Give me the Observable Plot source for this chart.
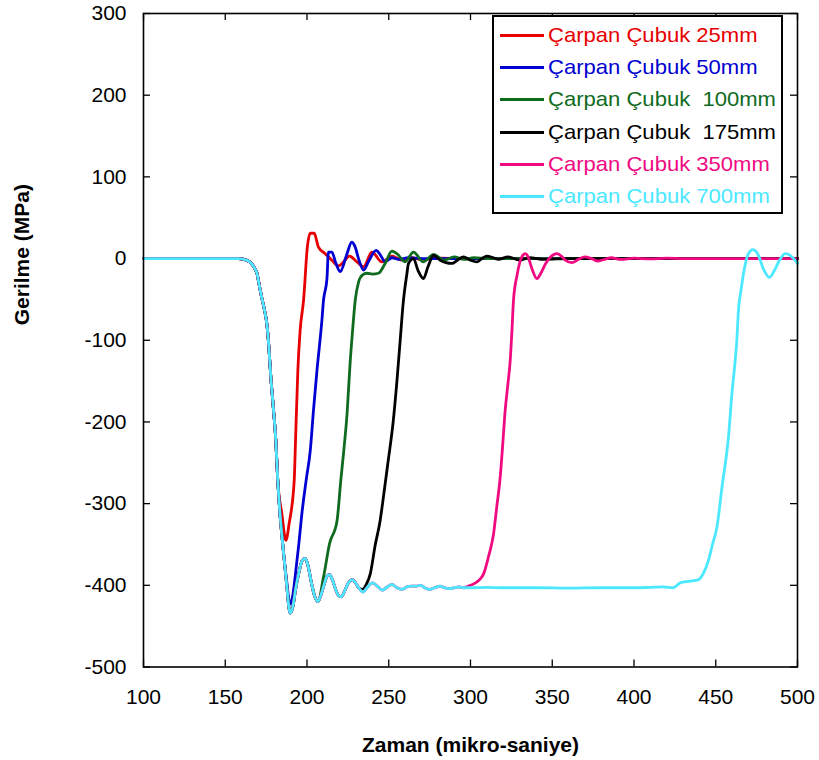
<!DOCTYPE html>
<html><head><meta charset="utf-8">
<script src="https://cdn.jsdelivr.net/npm/d3@7"></script>
<script src="https://cdn.jsdelivr.net/npm/@observablehq/plot@0.6"></script>
<style>
body{margin:0;background:#fff}
#wrap{position:relative;width:819px;height:760px;font-family:"Liberation Sans",Arial,sans-serif}
#legend{position:absolute;left:492px;top:15px;width:291px;height:199px;border:2.5px solid #000;background:#fff;box-sizing:border-box}
.item{position:absolute;left:0;height:30px;width:285px}
.item .ln{position:absolute;left:6px;width:44px;height:3px;top:13px}
.item .tx{position:absolute;left:54px;top:1px;font-size:21px;line-height:26px;white-space:pre;transform:scaleX(1.05);transform-origin:0 50%}
</style>
</head><body>
<div id="wrap"></div>
<script>
// ---- data ----
const xTicks = [100,150,200,250,300,350,400,450,500];
const yTicks = [300,200,100,0,-100,-200,-300,-400,-500];
const seriesNames = ["Çarpan Çubuk 25mm","Çarpan Çubuk 50mm","Çarpan Çubuk  100mm","Çarpan Çubuk  175mm","Çarpan Çubuk 350mm","Çarpan Çubuk 700mm"];
const seriesColors = ["#e60000","#0000d2","#0f6b1e","#000000","#f00a82","#4ce8ff"];

// shared incident/transmitted wave (all bars identical until the reflection arrives) [time, stress]
const shared = [[100,0],[130,0],[150,0],[158,0],[160,-0.5],[162,-1.5],[164,-3],[166,-6],[168,-12],[169.4,-18],[170.3,-27],[172,-45],[174,-63],[175.5,-81],[176.6,-106],[177.8,-143],[179.3,-180],[180.9,-222],[182.1,-271],[183.3,-308],[185.3,-353],[187.3,-394],[189.7,-434],[191.5,-425],[193,-405],[195,-385],[197,-370],[198.9,-367],[200.5,-375],[202.5,-395],[204.5,-412],[206.7,-420],[208.5,-412],[210.5,-399],[212.2,-389],[213.8,-387],[215.5,-393],[217.5,-405],[219.5,-413],[221,-414],[223,-407],[225,-398],[227.8,-393],[230,-398],[232,-404],[234.2,-408],[237,-402],[240,-397],[243,-401],[246,-406],[249,-402],[252,-399],[255,-403],[258,-405],[261,-402],[264,-401],[267,-401],[269.5,-400],[272,-403],[275,-405],[278,-403],[281.5,-401],[284,-403],[287,-404],[290,-403],[293,-402],[296,-403]];
const plateau700 = [[300,-403],[310,-402.5],[320,-403],[340,-403],[360,-403.5],[380,-403],[400,-403],[410,-402.5],[418,-402],[424,-403]];

const tail25 = [[184.6,-312],[187.1,-345],[189.1,-324],[192.2,-271],[192.8,-235],[194.4,-137],[195.8,-88],[197.9,-51],[200.3,16],[202,31],[204.4,31],[207,14],[211.1,6],[215.2,-2],[219,-9],[222,-5],[226,3],[230,-3],[234.6,-10],[239.7,8],[245.8,-4],[252,3],[258,-2],[264,1],[270,-1],[280,0.5],[300,0],[500,0]];
const tail50 = [[187.3,-390],[189.7,-423],[191.5,-410],[193,-385],[194.8,-353],[197,-310],[199.5,-271],[202,-235],[204,-185],[206.1,-137],[209.1,-76],[210.1,-51],[212.2,-25],[213.1,8],[215.2,8],[217.5,-5],[220.3,-16],[224,3],[227.4,20],[229.5,14],[231.5,0],[234.6,-14],[238,-2],[242.3,10],[245,4],[247.8,-4],[252,1],[256,-1],[262,1],[270,0],[300,0],[500,0]];
const tail100 = [[210.1,-390],[213.8,-349],[218.3,-322],[220.7,-271],[222.5,-235],[224.5,-190],[226.3,-130],[228,-85],[229.5,-51],[231.5,-29],[234,-20],[236.6,-18],[240,-19],[243.7,-18],[247.8,-6],[251.9,9],[255,6],[260,-4],[265.1,8],[271.2,-4],[277.4,5],[284,-2],[290,2],[296,-1],[302,1],[310,0],[500,0]];
const tail175 = [[234.2,-405],[236,-400],[238.7,-386],[241.7,-351],[244.8,-320],[246.2,-300],[249.5,-250],[252.7,-200],[255,-150],[257,-100],[259,-51],[261,-20],[262.1,-6],[265.1,0],[268,-15],[271.2,-24.5],[274,-10],[277.4,4],[281.5,-2],[285,-5],[288.6,-6],[292,-2],[295.7,2],[300,-2],[303.9,-4],[307,0],[310,3],[314,1],[317,-1],[323,2],[330,-2],[336,1],[345,-1],[360,0],[500,0]];
const tail350 = [[300,-400],[303,-397],[306,-392],[308,-386],[311,-365],[314.1,-337],[316,-305],[318.2,-267],[319.8,-225],[321.2,-186],[322.8,-155],[324.3,-124.5],[325.3,-90],[326.3,-51],[328.5,-20],[331.4,2],[333.5,6],[335,3],[337.5,-12],[340.6,-24.5],[343,-18],[346,-6],[349,2],[352.8,6],[355,4],[358,-2],[362,-5],[366,-1],[370,2],[374,0],[378,-3],[382,-1],[386,1],[392,-1],[400,0.5],[410,-0.5],[420,0.5],[430,0],[500,0]];
const tail700 = [[428.2,-397],[434,-395],[439.4,-393],[442.5,-385],[445.6,-369],[448,-350],[450.7,-329],[453.8,-280],[457.8,-218],[459.9,-165],[461.9,-124.5],[462.9,-100],[463.9,-63],[465.5,-38],[467,-18],[470,6],[472.7,11],[474.5,9],[476.1,4],[479,-12],[482.9,-23],[486,-14],[489,-2],[492.5,6],[495.5,4],[498,-1],[500,-6]];

// ---- assemble ----
const upTo = (arr, t) => arr.filter(d => d[0] <= t);
const curves = [
  upTo(shared,182.1).concat(tail25),
  upTo(shared,185.3).concat(tail50),
  upTo(shared,206.7).concat(tail100),
  upTo(shared,232).concat(tail175),
  upTo(shared,296).concat(tail350),
  shared.concat(plateau700, tail700)
];
const rows = curves.flatMap((c, i) => c.map(([t, v]) => ({t, v, s: seriesNames[i]})));

const plotW = 654, plotH = 653.5;
const fmt = d => String(d);
const chart = Plot.plot({
  width: 819, height: 760,
  marginLeft: 143, marginRight: 22, marginTop: 13, marginBottom: 93.5,
  x: {domain: [100, 500]},
  y: {domain: [-500, 300]},
  color: {domain: seriesNames, range: seriesColors},
  style: {fontFamily: "'Liberation Sans', Arial, sans-serif", background: "white", color: "#000"},
  marks: [
    Plot.axisY(yTicks, {tickSize: 0, tickPadding: 17, fontSize: 21, tickFormat: fmt, label: null}),
    Plot.axisX(xTicks, {tickSize: 0, tickPadding: 22, fontSize: 21, tickFormat: fmt, label: null}),
    Plot.tickY(yTicks, {y: d => d, insetRight: plotW - 7, stroke: "#000", strokeWidth: 1.3}),
    Plot.tickY(yTicks, {y: d => d, insetLeft: plotW - 7, stroke: "#000", strokeWidth: 1.3}),
    Plot.tickX(xTicks, {x: d => d, insetTop: plotH - 7, stroke: "#000", strokeWidth: 1.3}),
    Plot.tickX(xTicks, {x: d => d, insetBottom: plotH - 7, stroke: "#000", strokeWidth: 1.3}),
    ...seriesNames.map(name => Plot.line(rows.filter(r => r.s === name), {x: "t", y: "v", stroke: "s", strokeWidth: 2.8, curve: "monotone-x"})),
    Plot.frame({stroke: "#000", strokeWidth: 1.6}),
    Plot.text(["Zaman (mikro-saniye)"], {frameAnchor: "bottom", dy: 78, fontSize: 21, fontWeight: "bold", lineAnchor: "middle"}),
    Plot.text(["Gerilme (MPa)"], {frameAnchor: "left", dx: -121, dy: -15, rotate: -90, fontSize: 21, fontWeight: "bold", lineAnchor: "middle"})
  ]
});
const wrap = document.getElementById("wrap");
wrap.appendChild(chart);

// legend
const leg = document.createElement("div");
leg.id = "legend";
seriesNames.forEach((name, i) => {
  const it = document.createElement("div");
  it.className = "item";
  it.style.top = (4 + i * 32.2) + "px";
  const ln = document.createElement("div");
  ln.className = "ln"; ln.style.background = seriesColors[i];
  const tx = document.createElement("div");
  tx.className = "tx"; tx.style.color = seriesColors[i]; tx.textContent = name;
  it.appendChild(ln); it.appendChild(tx);
  leg.appendChild(it);
});
wrap.appendChild(leg);
</script>
</body></html>
